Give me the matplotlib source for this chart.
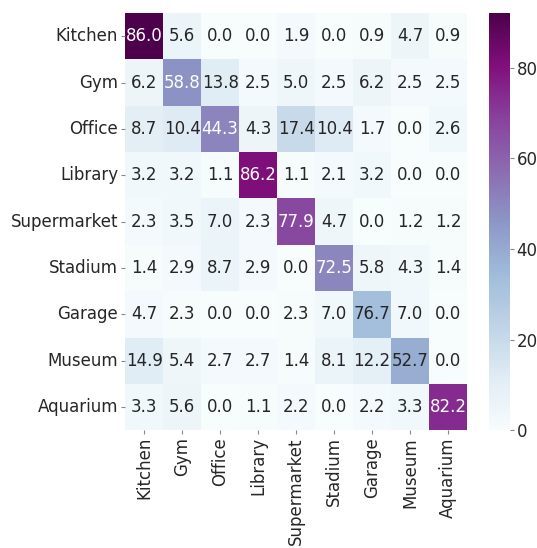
import numpy as np
import matplotlib
matplotlib.use("Agg")
import matplotlib.pyplot as plt
import seaborn as sns

# class names (rows = true, cols = predicted)
CLASSES = ["Kitchen", "Gym", "Office", "Library", "Supermarket",
           "Stadium", "Garage", "Museum", "Aquarium"]

# raw counts drive the colours (colourbar tops out near 92)
COUNTS = np.array([
    [92, 6, 0, 0, 2, 0, 1, 5, 1],
    [5, 47, 11, 2, 4, 2, 5, 2, 2],
    [10, 12, 51, 5, 20, 12, 2, 0, 3],
    [3, 3, 1, 81, 1, 2, 3, 0, 0],
    [2, 3, 6, 2, 67, 4, 0, 1, 1],
    [1, 2, 6, 2, 0, 50, 4, 3, 1],
    [2, 1, 0, 0, 1, 3, 33, 3, 0],
    [11, 4, 2, 2, 1, 6, 9, 39, 0],
    [3, 5, 0, 1, 2, 0, 2, 3, 74],
])

# row percentages shown as the cell labels
PERCENT = np.array([
    [86.0, 5.6, 0.0, 0.0, 1.9, 0.0, 0.9, 4.7, 0.9],
    [6.2, 58.8, 13.8, 2.5, 5.0, 2.5, 6.2, 2.5, 2.5],
    [8.7, 10.4, 44.3, 4.3, 17.4, 10.4, 1.7, 0.0, 2.6],
    [3.2, 3.2, 1.1, 86.2, 1.1, 2.1, 3.2, 0.0, 0.0],
    [2.3, 3.5, 7.0, 2.3, 77.9, 4.7, 0.0, 1.2, 1.2],
    [1.4, 2.9, 8.7, 2.9, 0.0, 72.5, 5.8, 4.3, 1.4],
    [4.7, 2.3, 0.0, 0.0, 2.3, 7.0, 76.7, 7.0, 0.0],
    [14.9, 5.4, 2.7, 2.7, 1.4, 8.1, 12.2, 52.7, 0.0],
    [3.3, 5.6, 0.0, 1.1, 2.2, 0.0, 2.2, 3.3, 82.2],
])

plt.rcParams["font.family"] = ["DejaVu Sans"]
plt.rcParams["text.color"] = "#262626"
plt.rcParams["xtick.color"] = "#262626"
plt.rcParams["ytick.color"] = "#262626"

fig = plt.figure(figsize=(5.37, 5.48), dpi=100)
ax = fig.add_axes([0.233, 0.215, 0.637, 0.761])
cax = fig.add_axes([0.911, 0.215, 0.039, 0.761])

sns.heatmap(COUNTS, annot=PERCENT, fmt=".1f", cmap="BuPu", ax=ax, cbar_ax=cax,
            xticklabels=CLASSES, yticklabels=CLASSES,
            annot_kws={"fontsize": 12})

ax.tick_params(axis="both", labelsize=12, length=3, width=0.8, color="#888888", pad=2)
ax.set_xticklabels(CLASSES, rotation=90)
ax.set_yticklabels(CLASSES, rotation=0)
cax.tick_params(labelsize=12, length=3, width=0.8, color="#888888", pad=1.5)
cax.set_yticks([0, 20, 40, 60, 80])
for s in cax.spines.values():
    s.set_visible(False)

fig.savefig("out.png", dpi=100)
